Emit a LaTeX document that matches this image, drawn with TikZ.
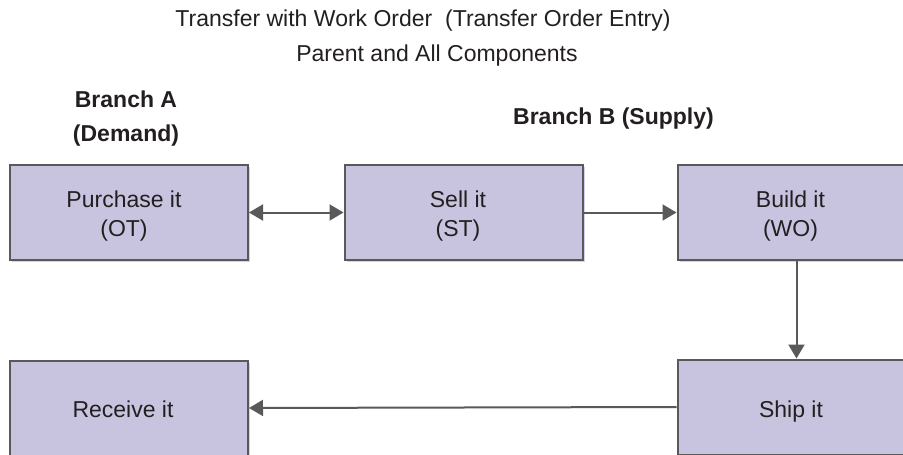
\documentclass[tikz,border=0pt]{standalone}
\usepackage{fontspec}
\setmainfont{Liberation Sans}
\usetikzlibrary{arrows.meta,shadows}
\definecolor{boxfill}{HTML}{C8C4E0}
\definecolor{shade}{HTML}{D4D1EA}
\definecolor{edge}{HTML}{58595B}
\definecolor{txt}{HTML}{231F20}
\begin{document}
\begin{tikzpicture}[x=1pt,y=-1pt,
  procbox/.style={draw=edge,fill=boxfill,line width=2pt,minimum width=238pt,minimum height=95pt,inner sep=0pt,
    drop shadow={shadow xshift=2pt,shadow yshift=-2pt,fill=shade,opacity=1}},
  lbl/.style={anchor=base,text=txt,inner sep=0pt,font=\fontsize{23}{28}\selectfont},
  blbl/.style={lbl,font=\bfseries\fontsize{23}{28}\selectfont},
  conn/.style={draw=edge,line width=2pt,-{Triangle[length=14pt,width=16pt]}},
  conn2/.style={draw=edge,line width=2pt,{Triangle[length=14pt,width=16pt]}-{Triangle[length=14pt,width=16pt]}}]
\useasboundingbox (0,0) rectangle (903,455);
\clip (0,0) rectangle (903,455);
% titles
\node[lbl] (title1) at (423,27) {Transfer with Work Order\ \ (Transfer Order Entry)};
\node[lbl] (title2) at (437,61) {Parent and All Components};
\node[blbl] (brA1) at (126,107) {Branch A};
\node[blbl] (brA2) at (126,141) {(Demand)};
\node[blbl] (brB) at (613.5,124) {Branch B (Supply)};
% boxes
\node[procbox] (purch) at (129,212.5) {};
\node[procbox] (sell) at (463.5,212.5) {};
\node[procbox] (build) at (796.5,212.5) {};
\node[procbox] (ship) at (796.5,407) {};
\node[procbox] (recv) at (129,408) {};
% box texts
\node[lbl] (purchA) at (124,207) {Purchase it};
\node[lbl] (purchB) at (124,236) {(OT)};
\node[lbl] (sellA) at (458,207) {Sell it};
\node[lbl] (sellB) at (458,236) {(ST)};
\node[lbl] (buildA) at (790.5,207) {Build it};
\node[lbl] (buildB) at (790.5,236) {(WO)};
\node[lbl] (shipT) at (791,417.5) {Ship it};
\node[lbl] (recvT) at (123,417.5) {Receive it};
% connectors
\draw[conn2] (purch.east) -- (sell.west);
\draw[conn] (sell.east) -- (build.west);
\draw[conn] (build.south) -- (ship.north);
\draw[conn] (ship.west) -- (recv.east);
\end{tikzpicture}
\end{document}
